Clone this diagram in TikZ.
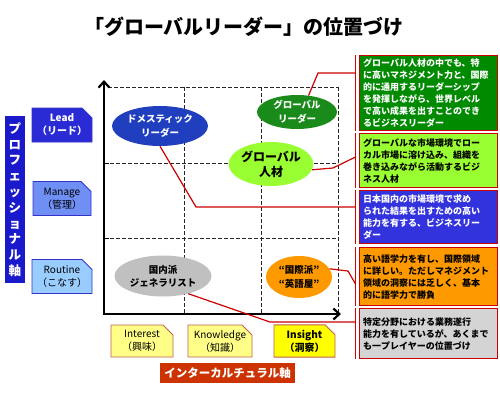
\documentclass[tikz,border=0pt]{standalone}
\usepackage{fontspec}
\setmainfont{Noto Sans CJK JP}
\usetikzlibrary{shapes.geometric,shapes.misc,arrows.meta}
\definecolor{lblue}{RGB}{26,26,204}
\definecolor{leadfill}{RGB}{43,43,214}
\definecolor{managefill}{RGB}{111,143,245}
\definecolor{routinefill}{RGB}{153,204,255}
\definecolor{levelborder}{RGB}{51,51,204}
\definecolor{domblue}{RGB}{31,63,191}
\definecolor{glgreen}{RGB}{26,138,26}
\definecolor{gjgreen}{RGB}{153,255,51}
\definecolor{gengray}{RGB}{192,192,192}
\definecolor{orangeC}{RGB}{255,153,0}
\definecolor{boxgreen}{RGB}{0,138,0}
\definecolor{boxblue}{RGB}{51,51,221}
\definecolor{boxgray}{RGB}{212,212,212}
\definecolor{lred}{RGB}{204,0,0}
\definecolor{ylight}{RGB}{255,255,136}
\definecolor{ystrong}{RGB}{255,255,0}
\definecolor{ybord}{RGB}{192,96,80}
\definecolor{axred}{RGB}{204,51,0}
\begin{document}
\begin{tikzpicture}[x=1pt,y=-1pt,
  grid/.style={dashed, dash pattern=on 3.5pt off 2.5pt, line width=0.8pt, black!85},
  axisline/.style={line width=2.6pt, black},
  leader/.style={draw=lred, line width=1.2pt},
  bracket/.style={draw=lred, line width=1.6pt},
  ell/.style={ellipse, inner sep=0pt, align=center, font=\bfseries\fontsize{9.5}{14}\selectfont},
  rbox/.style={draw=lred, line width=1.2pt, rectangle, anchor=north west, minimum width=138pt,
     text width=130pt, align=left, inner xsep=4pt, inner ysep=1pt, font=\bfseries\fontsize{9}{12}\selectfont},
  level/.style={chamfered rectangle, chamfered rectangle corners=north east,
     chamfered rectangle xsep=5pt, chamfered rectangle ysep=5pt,
     draw=levelborder, line width=0.9pt, minimum width=58pt, minimum height=34pt,
     inner sep=0pt, align=center, font=\fontsize{10}{13}\selectfont},
  xlevel/.style={chamfered rectangle, chamfered rectangle corners=north east,
     chamfered rectangle xsep=5pt, chamfered rectangle ysep=5pt,
     draw=ybord, line width=0.9pt, minimum height=32pt,
     inner sep=0pt, align=center, font=\fontsize{10}{13}\selectfont}
]
\useasboundingbox (0,0) rectangle (500,400);

% title
\node[font=\bfseries\fontsize{20}{24}\selectfont] (title) at (244,27) {「グローバルリーダー」の位置づけ};

% grid
\draw[grid] (108,87) -- (338,87);
\draw[grid] (104,163) -- (338,163);
\draw[grid] (104,238) -- (338,238);
\draw[grid] (184,87) -- (184,314);
\draw[grid] (261,87) -- (261,314);
\draw[grid] (338,87) -- (338,314);

% axes
\coordinate (ytop) at (104,80);
\coordinate (O) at (104,314);
\coordinate (xend) at (341,314);
\draw[axisline, {Straight Barb[length=6pt,width=11pt,line width=2.2pt]}-{Straight Barb[length=6pt,width=11pt,line width=2.2pt]}] (ytop) -- (O) -- (xend);
\draw[line width=0.8pt] (104,163) -- (109,163);
\draw[line width=0.8pt] (104,238) -- (109,238);

% right boxes
\node[rbox, fill=boxgreen, text=white, minimum height=75pt] (b1) at (358.5,55) {グローバル人材の中でも、特\\に高いマネジメント力と、国際\\的に通用するリーダーシップ\\を発揮しながら、世界レベル\\で高い成果を出すことのでき\\るビジネスリーダー};
\node[rbox, fill=gjgreen, text=black, minimum height=54pt] (b2) at (358.5,133) {グローバルな市場環境でロー\\カル市場に溶け込み、組織を\\巻き込みながら活動するビジ\\ネス人材};
\node[rbox, fill=boxblue, text=white, minimum height=53pt] (b3) at (358.5,190) {日本国内の市場環境で求め\\られた結果を出すための高い\\能力を有する、ビジネスリー\\ダー};
\node[rbox, fill=orangeC, text=black, minimum height=58pt] (b4) at (358.5,247) {高い語学力を有し、国際領域\\に詳しい。ただしマネジメント\\領域の洞察には乏しく、基本\\的に語学力で勝負};
\node[rbox, fill=boxgray, text=black, minimum height=50pt] (b5) at (358.5,308) {特定分野における業務遂行\\能力を有しているが、あくまで\\も一プレイヤーの位置づけ};

\foreach \b in {b1,b2,b3,b4,b5}
  \draw[bracket] ([xshift=-3pt]\b.north west) -- ([xshift=-3pt]\b.south west);

% leader bends
\coordinate (k1) at (318,73);   \coordinate (e1) at (355.5,73);
\coordinate (k2) at (333,168);  \coordinate (e2) at (355.5,157);
\coordinate (k3) at (196,207);  \coordinate (e3) at (355.5,207);
\coordinate (k4) at (348,271);  \coordinate (e4) at (355.5,284);
\coordinate (k5) at (270,322);  \coordinate (e5) at (355.5,322);

% ellipses
\node[ell, fill=domblue, text=white, minimum width=96pt, minimum height=40pt] (dom) at (160,126) {ドメスティック\\リーダー};
\node[ell, fill=glgreen, text=white, minimum width=80pt, minimum height=34pt, font=\bfseries\fontsize{9.5}{14}\selectfont] (gl) at (297,112) {グローバル\\リーダー};
\node[ell, fill=gjgreen, text=black, minimum width=84pt, minimum height=44pt, font=\bfseries\fontsize{12}{15}\selectfont] (gj) at (271,164) {グローバル\\人材};
\node[ell, fill=gengray, text=black, minimum width=97pt, minimum height=41pt, font=\bfseries\fontsize{9.5}{13}\selectfont] (gen) at (163,276) {国内派\\ジェネラリスト};
\node[ell, fill=orangeC, text=black, minimum width=66pt, minimum height=42pt, font=\bfseries\fontsize{9.5}{14}\selectfont] (ora) at (299,277) {“国際派”\\“英語屋”};

% leaders (drawn behind ellipses visually by starting on borders)
\draw[leader] (gl.55) -- (k1) -- (e1);
\draw[leader] (gj.-8) -- (k2) -- (e2);
\draw[leader] (dom.south) -- (k3) -- (e3);
\draw[leader] (ora.15) -- (k4) -- (e4);
\draw[leader] (gen.-35) -- (k5) -- (e5);

% left vertical label
\node[fill=lblue, text=white, minimum width=20pt, minimum height=167pt, inner sep=0pt, align=center,
  font=\bfseries\fontsize{12.5}{15.8}\selectfont] (pax) at (15,199.5) {プ\\ロ\\フ\\ェ\\ッ\\シ\\ョ\\ナ\\ル\\軸};

% level boxes
\node[level, fill=leadfill, text=white, font=\bfseries\fontsize{10}{13}\selectfont] (lead) at (62,125) {Lead\\（リード）};
\node[level, fill=managefill, text=black] (manage) at (62,198.5) {Manage\\（管理）};
\node[level, fill=routinefill, text=black] (routine) at (62,276.5) {Routine\\（こなす）};

% bottom boxes
\node[xlevel, fill=ylight, minimum width=62pt] (interest) at (142,341) {Interest\\（興味）};
\node[xlevel, fill=ylight, minimum width=64pt] (knowledge) at (220,341) {Knowledge\\（知識）};
\node[xlevel, fill=ystrong, minimum width=61pt, font=\bfseries\fontsize{10}{13}\selectfont] (insight) at (304.5,341) {Insight\\（洞察）};

% bottom axis label
\node[fill=axred, text=white, minimum width=135pt, minimum height=20pt, inner sep=0pt,
  font=\bfseries\fontsize{11.5}{14}\selectfont] (xax) at (227.5,373) {インターカルチュラル軸};
\end{tikzpicture}
\end{document}
